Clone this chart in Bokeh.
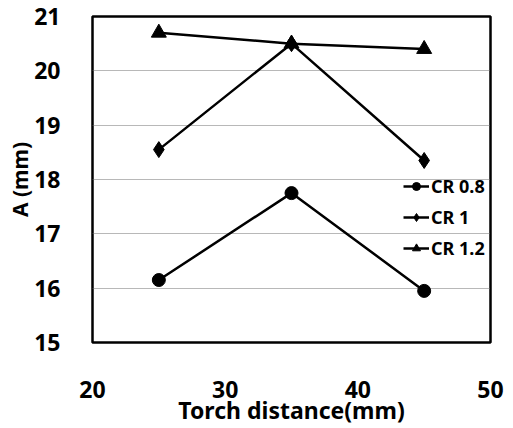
from bokeh.plotting import figure
from bokeh.models import Range1d, FixedTicker, Legend, LegendItem
from bokeh.embed import file_html
from bokeh.resources import INLINE

torch_distance = [25, 35, 45]
cr_08 = [16.15, 17.75, 15.95]
cr_10 = [18.55, 20.5, 18.35]
cr_12 = [20.7, 20.5, 20.4]
x_ticks = [20, 30, 40, 50]
y_ticks = [15, 16, 17, 18, 19, 20, 21]

FONT = "Noto Sans"

p = figure(width=513, height=428, output_backend="svg", toolbar_location=None,
           x_range=Range1d(20, 50), y_range=Range1d(15, 21),
           min_border_left=92, min_border_right=23, min_border_top=16, min_border_bottom=86)
p.background_fill_color = "white"
p.border_fill_color = "white"
p.outline_line_color = "black"
p.outline_line_width = 2.5

p.xgrid.visible = False
p.ygrid.grid_line_color = "#707070"
p.ygrid.grid_line_dash = "1 1"
p.ygrid.grid_line_width = 1

for ax in (p.xaxis[0], p.yaxis[0]):
    ax.axis_line_color = None
    ax.major_tick_line_color = None
    ax.minor_tick_line_color = None
    ax.major_label_text_font = FONT
    ax.major_label_text_font_style = "bold"
    ax.major_label_text_font_size = "23px"
    ax.major_label_text_color = "black"
    ax.axis_label_text_font = FONT
    ax.axis_label_text_font_style = "bold"
    ax.axis_label_text_font_size = "23px"
    ax.axis_label_text_color = "black"

p.yaxis.axis_label_text_font_size = "21px"
p.xaxis.ticker = FixedTicker(ticks=x_ticks)
p.yaxis.ticker = FixedTicker(ticks=y_ticks)
p.xaxis.axis_label = "Torch distance(mm)"
p.yaxis.axis_label = "A (mm)"
p.xaxis.major_label_standoff = 32
p.xaxis.axis_label_standoff = -7
p.yaxis.major_label_standoff = 26
p.yaxis.axis_label_standoff = -3

items = []
for name, ys, marker, size in [("CR 0.8", cr_08, "circle", 13),
                               ("CR 1", cr_10, "diamond", 16),
                               ("CR 1.2", cr_12, "triangle", 15)]:
    l = p.line(torch_distance, ys, line_color="black", line_width=2.5)
    s = p.scatter(torch_distance, ys, marker=marker, size=size, fill_color="black", line_color="black")
    items.append(LegendItem(label=name, renderers=[l, s]))

legend = Legend(items=items, location=(311, 82), border_line_color=None,
                background_fill_alpha=0, padding=0, margin=0, spacing=7,
                glyph_width=26, glyph_height=20, label_standoff=2,
                label_text_font=FONT, label_text_font_style="bold",
                label_text_font_size="18px", label_text_color="black")
p.add_layout(legend, "center")

open("out.html", "w").write(file_html(p, INLINE))
